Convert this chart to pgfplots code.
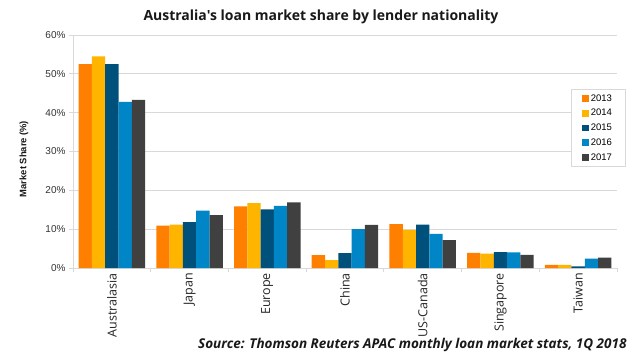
\documentclass[border=0pt]{standalone}
\usepackage{pgfplots}
\pgfplotsset{compat=1.18}
\usepackage{fontspec}
\setmainfont{Liberation Sans}
\newfontfamily\opensans{Open Sans}
\definecolor{c13}{HTML}{FF8000}
\definecolor{c14}{HTML}{FFB400}
\definecolor{c15}{HTML}{00507C}
\definecolor{c16}{HTML}{0085C6}
\definecolor{c17}{HTML}{404040}
\definecolor{gridc}{HTML}{D9D9D9}
\pgfplotstableread{
x y13 y14 y15 y16 y17
0 52.5 54.5 52.5 42.8 43.3
1 10.9 11.2 11.8 14.8 13.6
2 15.9 16.7 15.1 16.0 16.9
3 3.3 2.0 3.8 10.0 11.1
4 11.3 9.8 11.2 8.8 7.2
5 3.9 3.7 4.1 4.0 3.4
6 0.8 0.8 0.4 2.4 2.7
}\datatable
\begin{document}
\begin{tikzpicture}[x=1pt,y=1pt]
\path[use as bounding box, fill=white] (0,0) rectangle (640,360);
\begin{axis}[
  at={(73pt,92pt)}, anchor=south west,
  scale only axis, width=544pt, height=233pt,
  xmin=-0.5, xmax=6.5, ymin=0, ymax=60,
  ybar=0pt, bar width=13.3pt,
  axis x line*=bottom, axis y line*=left,
  axis line style={draw=gridc, line width=0.8pt, -},
  ymajorgrids, grid style={draw=gridc, line width=0.8pt},
  ytick={0,10,...,60},
  yticklabel={\pgfmathprintnumber{\tick}\%},
  /pgf/number format/assume math mode=true,
  yticklabel style={font=\fontsize{10}{12}\selectfont, text=black!80},
  xtick={0,...,6},
  xticklabels={Australasia,Japan,Europe,China,US-Canada,Singapore,Taiwan},
  xticklabel style={font=\opensans\fontsize{12.5}{15}\selectfont, rotate=90, anchor=east, inner sep=1pt, text=black!85},
  minor xtick={-0.5,0.5,...,6.5},
  major x tick style={draw=none},
  minor x tick style={draw=gridc, line width=0.8pt},
  y tick style={draw=gridc, line width=0.8pt},
  tick align=outside, major tick length=4pt, minor tick length=4pt,
  legend style={at={(0.9154,0.768)}, anchor=north west, draw=gridc, line width=0.8pt,
    font=\fontsize{9.5}{11}\selectfont, inner xsep=11pt, inner ysep=3pt, row sep=2.6pt},
  legend cell align=left,
  legend image code/.code={\fill[#1] (0pt,-3.25pt) rectangle (6.5pt,3.25pt);},
]
\addplot[fill=c13, draw=none] table[x=x,y=y13]{\datatable};
\addplot[fill=c14, draw=none] table[x=x,y=y14]{\datatable};
\addplot[fill=c15, draw=none] table[x=x,y=y15]{\datatable};
\addplot[fill=c16, draw=none] table[x=x,y=y16]{\datatable};
\addplot[fill=c17, draw=none] table[x=x,y=y17]{\datatable};
\legend{2013,2014,2015,2016,2017}
\end{axis}
\node[rotate=90, font=\bfseries\fontsize{9.4}{11}\selectfont, text=black!90] at (24,201) {Market Share (\%)};
\node[font=\opensans\bfseries\fontsize{14}{16}\selectfont, text=black!90] at (321,343) {Australia's loan market share by lender nationality};
\node[font=\opensans\bfseries\itshape\fontsize{13.5}{15}\selectfont, text=black!90, anchor=east] at (630,15) {Source: Thomson Reuters APAC monthly loan market stats, 1Q 2018};
\end{tikzpicture}
\end{document}
